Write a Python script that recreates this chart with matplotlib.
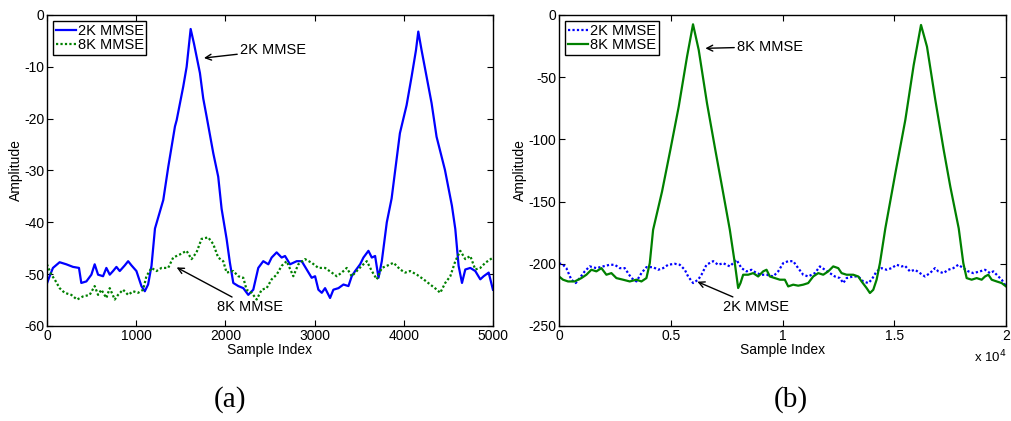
import matplotlib
matplotlib.use('Agg')
import matplotlib.pyplot as plt
from matplotlib.ticker import FuncFormatter

# (a) 5000-sample run
a_2k_x = [0, 30, 67, 142, 217, 292, 359, 385, 442, 498, 535, 573, 629, 666, 704, 741, 779, 816,
          873, 910, 947, 1003, 1059, 1097, 1134, 1172, 1211, 1304, 1360, 1435, 1454, 1528, 1566,
          1611, 1648, 1715, 1752, 1790, 1865, 1920, 1958, 2014, 2051, 2089, 2145, 2201, 2257,
          2313, 2369, 2425, 2482, 2519, 2575, 2631, 2669, 2725, 2800, 2856, 2912, 2968, 3006,
          3043, 3081, 3118, 3174, 3211, 3268, 3324, 3380, 3417, 3455, 3511, 3548, 3604, 3642,
          3679, 3717, 3754, 3810, 3864, 3957, 4032, 4088, 4137, 4163, 4200, 4256, 4312, 4368,
          4462, 4540, 4578, 4615, 4653, 4690, 4746, 4802, 4858, 4896, 4952, 5000]
a_2k_y = [-51.8, -50.4, -48.8, -47.7, -48.1, -48.6, -48.8, -51.7, -51.4, -50.1, -48.1, -50.1,
          -50.4, -48.8, -50.1, -49.4, -48.6, -49.4, -48.3, -47.5, -48.3, -49.4, -52.3, -53.3,
          -52.0, -48.4, -41.2, -35.7, -29.3, -21.5, -20.3, -13.8, -10.0, -2.7, -5.5, -11.2,
          -16.1, -19.6, -26.7, -31.2, -37.4, -43.2, -47.8, -51.7, -52.3, -52.7, -54.0, -53.0,
          -48.8, -47.5, -48.1, -46.8, -45.8, -46.8, -46.5, -48.1, -47.5, -47.5, -49.1, -50.7,
          -50.4, -53.0, -53.6, -52.7, -54.6, -53.0, -52.7, -52.0, -52.3, -50.4, -49.4, -48.1,
          -46.8, -45.5, -46.8, -46.5, -50.7, -47.5, -40.0, -35.4, -22.8, -17.4, -11.9, -6.8,
          -3.2, -6.8, -11.9, -17.0, -23.5, -29.9, -36.8, -41.3, -48.4, -51.7, -49.1, -48.8,
          -49.4, -51.0, -50.4, -49.7, -53.0]
a_8k_x = [0, 49, 86, 142, 198, 273, 337, 404, 479, 535, 573, 610, 666, 704, 760, 797, 853, 910,
          966, 1022, 1078, 1115, 1172, 1228, 1284, 1359, 1415, 1490, 1565, 1621, 1677, 1733,
          1808, 1864, 1920, 1976, 2014, 2089, 2145, 2201, 2238, 2295, 2351, 2407, 2463, 2519,
          2575, 2631, 2687, 2762, 2818, 2893, 2968, 3043, 3118, 3193, 3249, 3305, 3361, 3417,
          3473, 3529, 3586, 3642, 3698, 3754, 3810, 3885, 3960, 4016, 4072, 4147, 4222, 4297,
          4372, 4409, 4465, 4522, 4578, 4634, 4690, 4746, 4802, 4858, 4915, 5000]
a_8k_y = [-48.1, -50.1, -51.0, -52.7, -53.6, -54.0, -54.9, -54.3, -54.0, -52.3, -54.0, -53.0,
          -54.6, -52.7, -54.9, -54.0, -53.0, -54.0, -53.3, -53.6, -53.0, -50.4, -48.8, -49.4,
          -48.8, -48.8, -46.8, -46.2, -45.5, -47.1, -45.8, -43.2, -42.9, -44.2, -46.8, -47.5,
          -49.7, -49.4, -50.4, -50.7, -53.0, -53.6, -54.9, -53.0, -52.7, -51.0, -50.1, -48.4,
          -47.5, -50.4, -48.1, -47.1, -47.8, -48.8, -48.8, -49.7, -50.4, -49.7, -48.8, -50.4,
          -49.4, -48.4, -47.5, -49.4, -51.0, -48.8, -48.4, -47.8, -49.1, -49.7, -49.4, -50.1,
          -51.0, -52.0, -53.0, -53.6, -51.7, -50.4, -47.5, -45.5, -47.1, -46.5, -49.1, -48.8,
          -47.8, -46.8]

# (b) 20000-sample run
b_2k_x = [0, 179, 328, 552, 746, 925, 1149, 1373, 1672, 1970, 2269, 2492, 2716, 2940, 3239,
          3463, 3687, 3910, 4209, 4433, 4657, 4881, 5179, 5403, 5627, 5776, 6000, 6224, 6373,
          6597, 6896, 7119, 7343, 7642, 7940, 8164, 8388, 8612, 8836, 9060, 9284, 9582, 9806,
          10030, 10254, 10477, 10701, 10925, 11149, 11448, 11672, 11895, 12119, 12343, 12567,
          12716, 12866, 13164, 13388, 13612, 13836, 13985, 14209, 14433, 14657, 14880, 15104,
          15328, 15478, 15701, 15925, 16149, 16373, 16597, 16821, 16970, 17194, 17418, 17642,
          17865, 18089, 18313, 18537, 18836, 19060, 19284, 19433, 19657, 19806, 20000]
b_2k_y = [-199.5, -200.8, -203.5, -212.8, -215.5, -211.5, -206.1, -202.1, -203.5, -202.1,
          -200.8, -200.8, -203.5, -203.5, -211.5, -214.2, -207.5, -202.7, -202.7, -204.8,
          -203.5, -200.8, -200.0, -200.8, -204.8, -210.2, -215.5, -212.8, -208.8, -200.8,
          -197.9, -200.8, -199.5, -202.1, -196.8, -203.5, -206.1, -204.8, -207.5, -208.8,
          -208.8, -210.2, -206.1, -199.5, -197.9, -197.9, -203.5, -208.8, -210.2, -207.5,
          -202.1, -204.8, -207.5, -210.2, -211.5, -215.5, -211.5, -210.2, -210.2, -214.2,
          -215.5, -212.8, -206.1, -203.5, -204.8, -203.5, -200.8, -202.1, -201.6, -206.1,
          -204.8, -207.5, -210.2, -207.5, -203.5, -206.1, -207.5, -204.8, -203.5, -200.8,
          -203.5, -206.1, -207.5, -206.1, -204.8, -207.5, -206.1, -210.2, -212.8, -218.2]
b_8k_x = [0, 179, 403, 701, 1000, 1224, 1448, 1672, 1896, 2119, 2343, 2567, 2866, 3164, 3463,
          3687, 3910, 4060, 4209, 4608, 4980, 5355, 5727, 5995, 6250, 6621, 6993, 7293, 7642,
          7865, 8015, 8119, 8239, 8463, 8687, 8910, 9134, 9284, 9433, 9657, 9881, 10104, 10254,
          10477, 10701, 10925, 11149, 11373, 11597, 11821, 12045, 12269, 12493, 12642, 12866,
          13164, 13388, 13537, 13761, 13910, 14060, 14209, 14358, 14600, 15047, 15494, 15869,
          16196, 16464, 16836, 17211, 17507, 17883, 18089, 18238, 18462, 18686, 18910, 19060,
          19209, 19358, 19582, 19806, 20000]
b_8k_y = [-210.2, -212.8, -214.2, -214.2, -211.5, -208.8, -204.8, -206.1, -203.5, -208.8,
          -207.5, -211.5, -212.8, -214.2, -212.8, -214.2, -211.5, -199.5, -172.7, -142.0,
          -108.5, -73.7, -33.5, -7.5, -28.1, -71.0, -108.5, -138.0, -172.7, -199.5, -219.5,
          -215.5, -208.8, -208.8, -207.5, -210.2, -206.1, -204.8, -210.2, -211.5, -212.8,
          -212.8, -218.2, -216.8, -217.6, -216.8, -215.5, -210.2, -207.5, -208.8, -206.1,
          -202.1, -203.5, -207.5, -208.8, -208.8, -210.2, -214.2, -219.5, -223.5, -220.9,
          -212.8, -199.5, -171.5, -127.3, -84.4, -40.2, -8.0, -25.5, -68.3, -108.5, -138.0,
          -171.5, -199.5, -211.5, -212.8, -211.5, -212.8, -210.2, -208.8, -212.8, -214.2,
          -215.5, -218.2]

plt.rcParams['font.family'] = ['Liberation Sans', 'DejaVu Sans']
plt.rcParams['axes.unicode_minus'] = False

BLUE = '#0000ff'
GREEN = '#008000'
DOTS = (0, (1, 1))

fig = plt.figure(figsize=(10.12, 4.21), dpi=100)
ax1 = fig.add_axes([0.0464, 0.2257, 0.4407, 0.7387])
ax2 = fig.add_axes([0.5524, 0.2257, 0.4417, 0.7387])

ax1.plot(a_2k_x, a_2k_y, color=BLUE, lw=1.6, label='2K MMSE')
ax1.plot(a_8k_x, a_8k_y, color=GREEN, lw=1.6, ls=DOTS, label='8K MMSE')
ax1.set_xlim(0, 5000)
ax1.set_ylim(-60, 0)
ax1.set_xticks([0, 1000, 2000, 3000, 4000, 5000])
ax1.set_yticks([-60, -50, -40, -30, -20, -10, 0])

ax2.plot(b_2k_x, b_2k_y, color=BLUE, lw=1.6, ls=DOTS, label='2K MMSE')
ax2.plot(b_8k_x, b_8k_y, color=GREEN, lw=1.6, label='8K MMSE')
ax2.set_xlim(0, 20000)
ax2.set_ylim(-250, 0)
ax2.set_xticks([0, 5000, 10000, 15000, 20000])
ax2.set_yticks([-250, -200, -150, -100, -50, 0])
ax2.xaxis.set_major_formatter(FuncFormatter(lambda v, p: '%g' % (v / 1e4)))
ax2.text(1.0, -0.10, r'x 10$^4$', transform=ax2.transAxes, ha='right', va='center', fontsize=9.5)

for ax in (ax1, ax2):
    ax.tick_params(direction='in', top=True, right=True, labelsize=10, length=4, width=0.8, pad=2)
    for s in ax.spines.values():
        s.set_linewidth(1.0)
    ax.set_xlabel('Sample Index', fontsize=10, labelpad=0)
    ax.set_ylabel('Amplitude', fontsize=10, labelpad=1)
    leg = ax.legend(loc='upper left', fontsize=10.5, handlelength=1.4, handletextpad=0.1,
                    borderpad=0.2, labelspacing=0.05, borderaxespad=0.4, fancybox=False,
                    framealpha=1, edgecolor='black')
    leg.get_frame().set_linewidth(1.0)

arrow = dict(arrowstyle='->', color='black', lw=1.0, shrinkA=0, shrinkB=0)
ax1.annotate('2K MMSE', xy=(1760, -8.3), xytext=(2164, -6.8), fontsize=10.5,
             ha='left', va='center', arrowprops=arrow)
ax1.annotate('8K MMSE', xy=(1454, -48.7), xytext=(2280, -56.3), fontsize=10.5,
             ha='center', va='center', arrowprops=arrow)
ax2.annotate('8K MMSE', xy=(6547, -26.8), xytext=(7964, -25.5), fontsize=10.5,
             ha='left', va='center', arrowprops=arrow)
ax2.annotate('2K MMSE', xy=(6188, -214.4), xytext=(8800, -234.5), fontsize=10.5,
             ha='center', va='center', arrowprops=arrow)

fig.text(0.227, 0.05, '(a)', family='Liberation Serif', fontsize=21, ha='center', va='center')
fig.text(0.781, 0.05, '(b)', family='Liberation Serif', fontsize=21, ha='center', va='center')

fig.savefig('out.png', dpi=100)
